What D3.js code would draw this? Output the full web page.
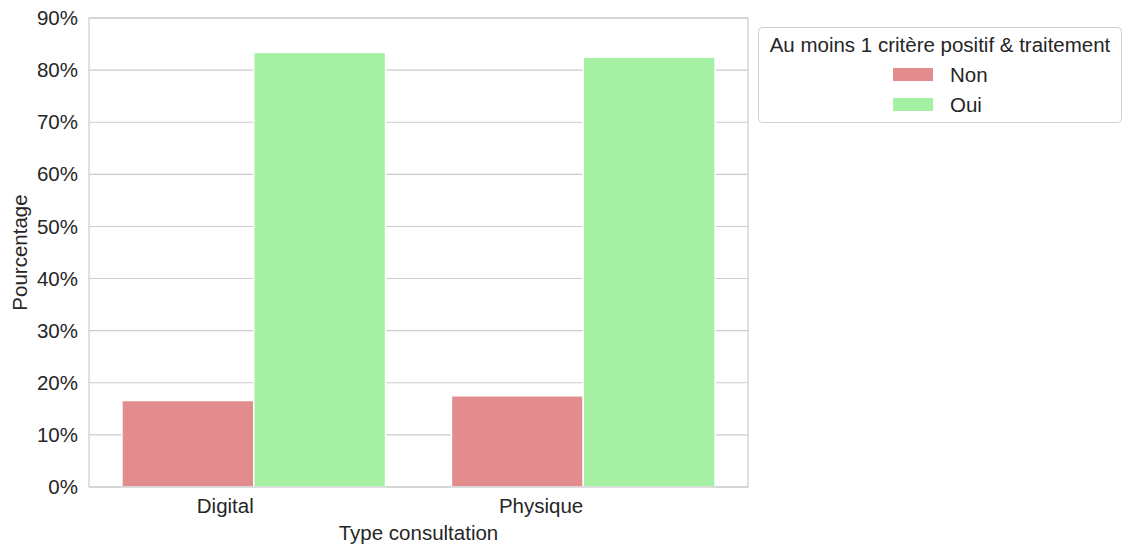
<!DOCTYPE html>
<html><head><meta charset="utf-8">
<script src="https://cdn.jsdelivr.net/npm/d3@7"></script>
<style>body{margin:0;background:#fff}svg{display:block}text{font-family:"Liberation Sans",Arial,sans-serif;fill:#262626}</style>
</head><body><svg id="c" width="1125" height="546"></svg>
<script>
const categories = ["Digital", "Physique"];
const series = ["Non", "Oui"];
const nonValues = [16.6, 17.5];
const ouiValues = [83.4, 82.5];
const yTicks = [0,10,20,30,40,50,60,70,80,90];
const colors = ["#e28c8e", "#a6f0a3"];
const legendTitle = "Au moins 1 critère positif & traitement";
const xLabel = "Type consultation";
const yLabel = "Pourcentage";

const FS = "20.5px";
const data = categories.map((c,i)=>({cat:c, vals:[nonValues[i], ouiValues[i]]}));
const svg = d3.select("#c");
const m = {l:89, r:748, t:18, b:487};
const x = d3.scaleBand().domain(categories).range([m.l, m.r]).paddingInner(0.2).paddingOuter(0.1);
const xs = d3.scaleBand().domain(series).range([0, x.bandwidth()]);
const y = d3.scaleLinear().domain([0,90]).range([m.b, m.t]);

// grid
svg.append("g").selectAll("line").data(yTicks).join("line")
  .attr("x1", m.l).attr("x2", m.r).attr("y1", d=>y(d)).attr("y2", d=>y(d))
  .attr("stroke", "#cccccc").attr("stroke-width", 1.1);

// bars
const g = svg.append("g").selectAll("g").data(data).join("g")
  .attr("transform", d=>`translate(${x(d.cat)},0)`);
g.selectAll("rect").data(d=>d.vals.map((v,j)=>({s:series[j], v, j}))).join("rect")
  .attr("x", d=>xs(d.s)).attr("width", xs.bandwidth())
  .attr("y", d=>y(d.v)).attr("height", d=>y(0)-y(d.v))
  .attr("fill", d=>colors[d.j]).attr("stroke", "#ffffff").attr("stroke-width", 1.5);

// spines
svg.append("rect").attr("x", m.l).attr("y", m.t).attr("width", m.r-m.l).attr("height", m.b-m.t)
  .attr("fill", "none").attr("stroke", "#cccccc").attr("stroke-width", 1.2);

// y axis ticks
const yAxis = d3.axisLeft(y).tickValues(yTicks).tickFormat(d=>d+"%").tickSize(0).tickPadding(11);
const ya = svg.append("g").attr("transform", `translate(${m.l},0)`).call(yAxis);
ya.select(".domain").remove();
ya.selectAll("text").style("font-size",FS).attr("fill","#262626");

const xAxis = d3.axisBottom(x).tickSize(0).tickPadding(11);
const xa = svg.append("g").attr("transform", `translate(0,${m.b})`).call(xAxis);
xa.select(".domain").remove();
xa.selectAll("text").style("font-size",FS).attr("fill","#262626").attr("text-anchor","end");

svg.append("text").attr("x", (m.l+m.r)/2).attr("y", 540).attr("text-anchor","middle")
  .style("font-size",FS).text(xLabel);
svg.append("text").attr("transform", `translate(27,${(m.t+m.b)/2}) rotate(-90)`).attr("text-anchor","middle")
  .style("font-size",FS).text(yLabel);

// legend
const lg = svg.append("g");
lg.append("rect").attr("x", 758.5).attr("y", 27.5).attr("width", 363).attr("height", 95).attr("rx", 4)
  .attr("fill", "#fff").attr("stroke", "#d0d0d0").attr("stroke-width", 1);
lg.append("text").attr("x", 940).attr("y", 52).attr("text-anchor","middle").style("font-size",FS).text(legendTitle);
series.forEach((s,i)=>{
  lg.append("rect").attr("x", 893).attr("y", 68 + i*30).attr("width", 40).attr("height", 13).attr("fill", colors[i]);
  lg.append("text").attr("x", 950).attr("y", 82 + i*30).style("font-size",FS).text(s);
});
</script></body></html>
